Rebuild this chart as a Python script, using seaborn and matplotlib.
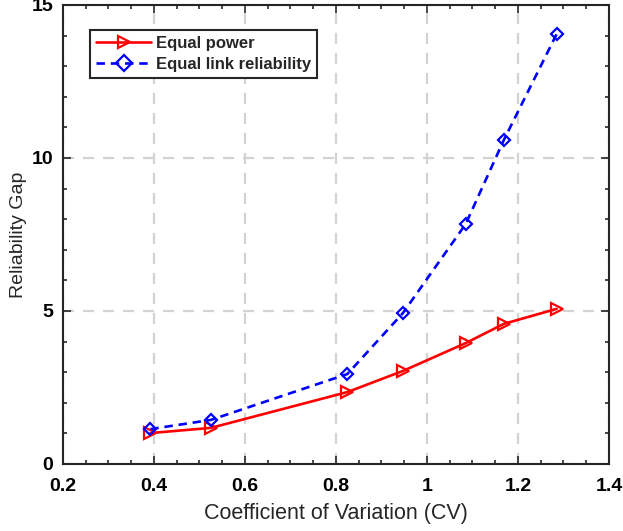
import numpy as np
import pandas as pd
import matplotlib
matplotlib.use("Agg")
import matplotlib.pyplot as plt
import seaborn as sns
from matplotlib.ticker import MultipleLocator

# datos
cv = [0.392, 0.525, 0.825, 0.947, 1.085, 1.169, 1.285]
gap_power = [1.01, 1.18, 2.35, 3.04, 3.95, 4.58, 5.07]
gap_link = [1.14, 1.44, 2.94, 4.93, 7.84, 10.59, 14.05]
series = ["Equal power", "Equal link reliability"]

sns.set_style("ticks")
plt.rcParams['font.family'] = ['Liberation Sans', 'DejaVu Sans']

df = pd.DataFrame({
    "cv": cv + cv,
    "gap": gap_power + gap_link,
    "serie": [series[0]] * len(cv) + [series[1]] * len(cv),
})

fig = plt.figure(figsize=(6.23, 5.31), dpi=100)
ax = fig.add_axes([0.1011, 0.1262, 0.8764, 0.8644])

sns.lineplot(data=df, x="cv", y="gap", hue="serie", style="serie",
             palette={series[0]: "red", series[1]: "blue"},
             markers={series[0]: ">", series[1]: "D"},
             dashes={series[0]: "", series[1]: (3.2, 2.2)},
             markersize=8.5, markerfacecolor="none", markeredgewidth=1.6,
             linewidth=1.9, ax=ax)

# marcadores huecos
for ln in ax.lines:
    ln.set_markerfacecolor("none")
    ln.set_markeredgecolor(ln.get_color())
ax.lines[1].set_markersize(6.2)

ax.set_xlim(0.2, 1.4)
ax.set_ylim(0, 15)
ax.xaxis.set_minor_locator(MultipleLocator(0.05))
ax.yaxis.set_major_locator(MultipleLocator(5))
ax.yaxis.set_minor_locator(MultipleLocator(1))
ax.set_xticks([0.2, 0.4, 0.6, 0.8, 1.0, 1.2, 1.4])
ax.set_xticklabels(["0.2", "0.4", "0.6", "0.8", "1", "1.2", "1.4"])

ax.tick_params(which="both", direction="in", top=True, right=True, width=1.2, colors="#262626")
ax.tick_params(which="major", length=6, labelsize=14, pad=7)
ax.tick_params(axis="x", which="major", pad=10)
ax.tick_params(which="minor", length=3)
for lab in ax.get_xticklabels() + ax.get_yticklabels():
    lab.set_fontweight("bold")
    lab.set_color("black")
for sp in ax.spines.values():
    sp.set_visible(True)
    sp.set_linewidth(1.5)
    sp.set_color("#262626")

ax.grid(True, which="major", linestyle=(0, (5, 4)), color="#d3d3d3", linewidth=1.6)
ax.set_axisbelow(True)

ax.set_xlabel("Coefficient of Variation (CV)", fontsize=15.5, color="#262626", labelpad=6)
ax.set_ylabel("Reliability Gap", fontsize=14, color="#262626", labelpad=3)

leg = ax.legend(loc="upper left", bbox_to_anchor=(0.05, 0.945), frameon=True,
                fancybox=False, edgecolor="#262626", framealpha=1,
                prop={"weight": "bold", "size": 12}, handlelength=3.3,
                borderpad=0.35, labelspacing=0.35, handletextpad=0.3,
                borderaxespad=0)
leg.get_frame().set_linewidth(1.5)

fig.savefig("out.png", dpi=100)
